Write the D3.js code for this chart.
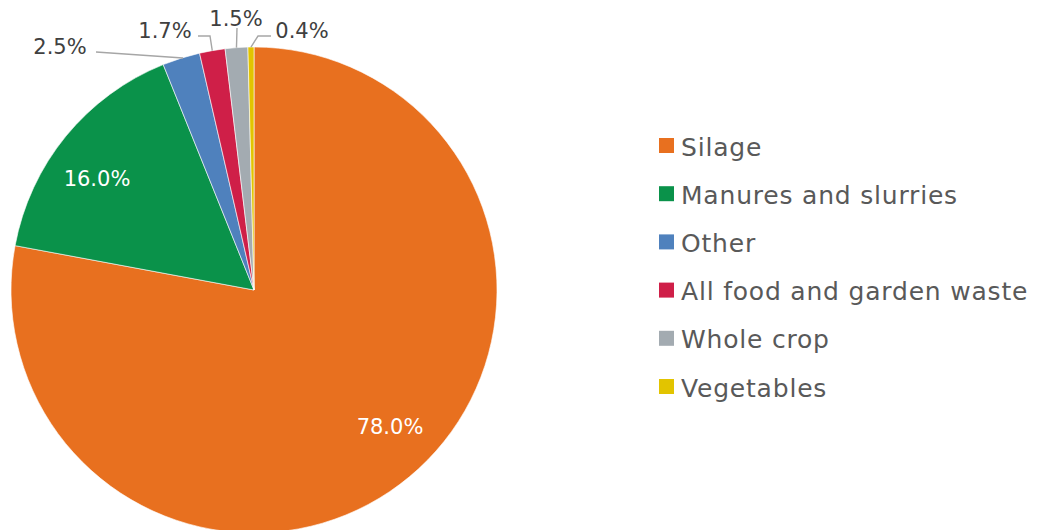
<!DOCTYPE html>
<html>
<head>
<meta charset="utf-8">
<script src="https://cdn.jsdelivr.net/npm/d3@7"></script>
<style>
  body { margin: 0; background: #fff; }
  svg { display: block; font-family: "DejaVu Sans", Verdana, sans-serif; }
</style>
</head>
<body>
<svg id="chart"></svg>
<script>
//------ Données ------
const categories = ["Silage", "Manures and slurries", "Other", "All food and garden waste", "Whole crop", "Vegetables"]
const shares = [78.0, 16.0, 2.5, 1.7, 1.5, 0.4]
const colors = ["#E8701F", "#0A924A", "#4F81BD", "#CF1F48", "#A3ABB1", "#E2C400"]

//taille du cadre
const width = 1038, height = 530
const cx = 254, cy = 290, radius = 243

const svg = d3.select("#chart")
    .attr("width", width)
    .attr("height", height)

//-- le camembert --
const pie = d3.pie().sort(null).value(d => d)
const arcs = pie(shares)
const arc = d3.arc().innerRadius(0).outerRadius(radius)

const g = svg.append("g").attr("transform", `translate(${cx},${cy})`)

g.selectAll("path.slice")
    .data(arcs)
    .enter()
    .append("path")
    .attr("class", "slice")
    .attr("d", arc)
    .attr("fill", (d, i) => colors[i])
    .attr("stroke", "#fff")
    .attr("stroke-width", 0.6)

//-- étiquettes --
// position des textes (centre) relatif au centre du camembert, mise en page seulement
const labelPos = [
    [136, 137, "in"],
    [-157, -111, "in"],
    [-194, -243, "out"],
    [-89, -259, "out"],
    [-18, -271, "out"],
    [48, -259, "out"]
]
// coude des traits de rappel (relatif au centre)
const elbows = [null, null, [-71, -232], [-44, -254], [-17, -262], [4, -254]]
// bout du trait côté texte
const lineStart = [null, null, [-158, -238], [-56, -254], [-17, -262], [17, -254]]

const edge = d3.arc().innerRadius(radius).outerRadius(radius)

arcs.forEach((d, i) => {
    if (labelPos[i][2] == "out") {
        let c = edge.centroid(d)
        let pts = [lineStart[i], elbows[i], c]
        g.append("path")
            .attr("d", d3.line()(pts))
            .attr("fill", "none")
            .attr("stroke", "#A6A6A6")
            .attr("stroke-width", 1.4)
    }
})

g.selectAll("text.lbl")
    .data(arcs)
    .enter()
    .append("text")
    .attr("class", "lbl")
    .attr("x", (d, i) => labelPos[i][0])
    .attr("y", (d, i) => labelPos[i][1])
    .attr("text-anchor", "middle")
    .attr("dominant-baseline", "central")
    .attr("font-size", 21)
    .attr("fill", (d, i) => labelPos[i][2] == "in" ? "#fff" : "#404040")
    .text(d => d.data.toFixed(1) + "%")

//-- légende --
const legend = svg.append("g").attr("transform", "translate(659,145.5)")
const rows = legend.selectAll("g")
    .data(categories)
    .enter()
    .append("g")
    .attr("transform", (d, i) => `translate(0,${i * 48.2})`)

rows.append("rect")
    .attr("x", 0)
    .attr("y", -7.5)
    .attr("width", 15)
    .attr("height", 15)
    .attr("fill", (d, i) => colors[i])

rows.append("text")
    .attr("x", 22)
    .attr("y", 10)
    .attr("font-size", 25)
    .attr("letter-spacing", 0.8)
    .attr("fill", "#595959")
    .text(d => d)
</script>
</body>
</html>
